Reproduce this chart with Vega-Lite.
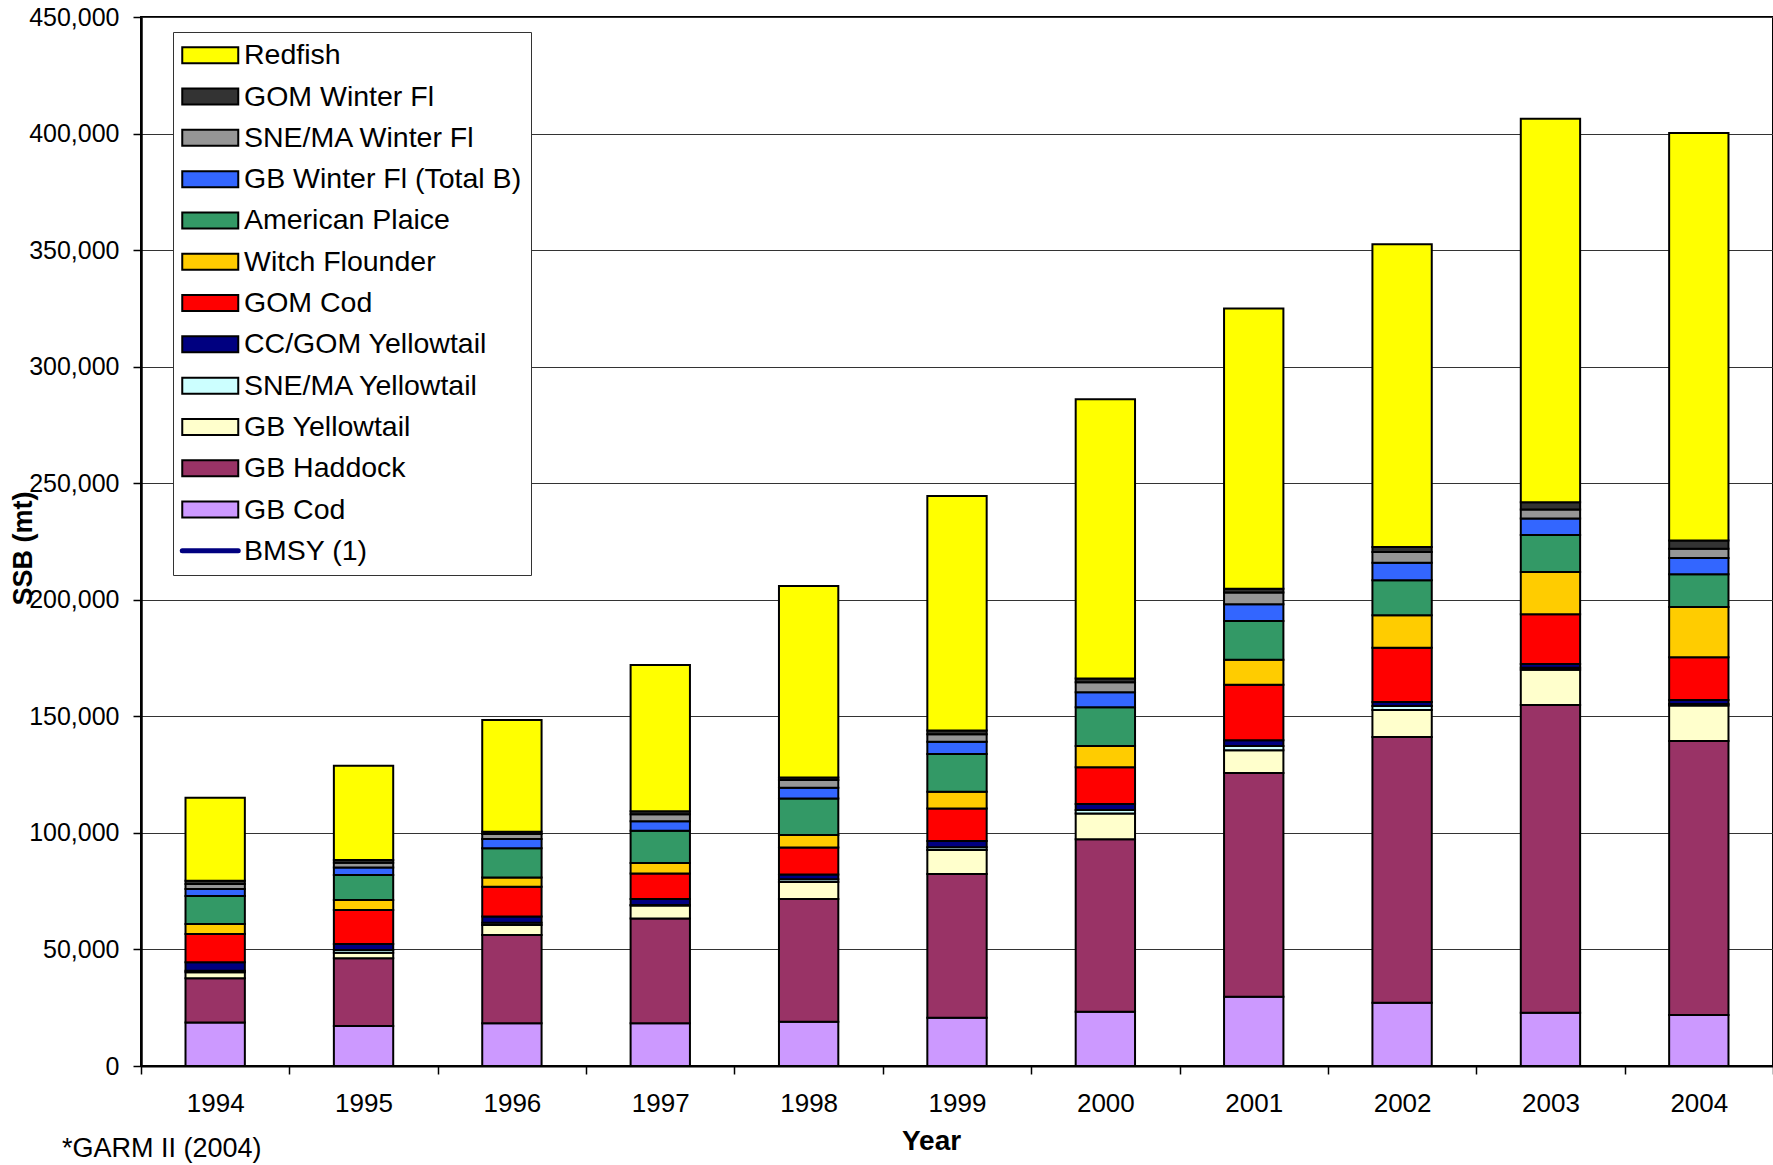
{
  "$schema": "https://vega.github.io/schema/vega-lite/v6.json",
  "autosize": {"type": "none"},
  "width": 1632,
  "height": 1049,
  "padding": {"left": 141, "top": 17, "right": 0, "bottom": 99},
  "background": "white",
  "config": {"font": "Liberation Sans", "view": {"stroke": "black", "strokeWidth": 2}},
  "title": {"text": "*GARM II (2004)", "orient": "bottom", "anchor": "start", "frame": "group", "dx": -79, "offset": -19, "fontSize": 27, "fontWeight": "normal", "font": "Liberation Sans", "color": "black"},
  "data": {"values": [
    {"Year":"1994","species":"GB Cod","k":1,"ssb":18700},{"Year":"1994","species":"GB Haddock","k":2,"ssb":18900},{"Year":"1994","species":"GB Yellowtail","k":3,"ssb":2600},{"Year":"1994","species":"SNE/MA Yellowtail","k":4,"ssb":700},{"Year":"1994","species":"CC/GOM Yellowtail","k":5,"ssb":3600},{"Year":"1994","species":"GOM Cod","k":6,"ssb":12100},{"Year":"1994","species":"Witch Flounder","k":7,"ssb":4300},{"Year":"1994","species":"American Plaice","k":8,"ssb":12000},{"Year":"1994","species":"GB Winter Fl (Total B)","k":9,"ssb":3000},{"Year":"1994","species":"SNE/MA Winter Fl","k":10,"ssb":2200},{"Year":"1994","species":"GOM Winter Fl","k":11,"ssb":1400},{"Year":"1994","species":"Redfish","k":12,"ssb":35600},
    {"Year":"1995","species":"GB Cod","k":1,"ssb":17200},{"Year":"1995","species":"GB Haddock","k":2,"ssb":29000},{"Year":"1995","species":"GB Yellowtail","k":3,"ssb":2400},{"Year":"1995","species":"SNE/MA Yellowtail","k":4,"ssb":1200},{"Year":"1995","species":"CC/GOM Yellowtail","k":5,"ssb":2500},{"Year":"1995","species":"GOM Cod","k":6,"ssb":14600},{"Year":"1995","species":"Witch Flounder","k":7,"ssb":4300},{"Year":"1995","species":"American Plaice","k":8,"ssb":10700},{"Year":"1995","species":"GB Winter Fl (Total B)","k":9,"ssb":3200},{"Year":"1995","species":"SNE/MA Winter Fl","k":10,"ssb":2100},{"Year":"1995","species":"GOM Winter Fl","k":11,"ssb":1200},{"Year":"1995","species":"Redfish","k":12,"ssb":40400},
    {"Year":"1996","species":"GB Cod","k":1,"ssb":18300},{"Year":"1996","species":"GB Haddock","k":2,"ssb":37900},{"Year":"1996","species":"GB Yellowtail","k":3,"ssb":4300},{"Year":"1996","species":"SNE/MA Yellowtail","k":4,"ssb":1000},{"Year":"1996","species":"CC/GOM Yellowtail","k":5,"ssb":2600},{"Year":"1996","species":"GOM Cod","k":6,"ssb":12800},{"Year":"1996","species":"Witch Flounder","k":7,"ssb":4000},{"Year":"1996","species":"American Plaice","k":8,"ssb":12500},{"Year":"1996","species":"GB Winter Fl (Total B)","k":9,"ssb":4000},{"Year":"1996","species":"SNE/MA Winter Fl","k":10,"ssb":2100},{"Year":"1996","species":"GOM Winter Fl","k":11,"ssb":1000},{"Year":"1996","species":"Redfish","k":12,"ssb":47900},
    {"Year":"1997","species":"GB Cod","k":1,"ssb":18300},{"Year":"1997","species":"GB Haddock","k":2,"ssb":45000},{"Year":"1997","species":"GB Yellowtail","k":3,"ssb":5500},{"Year":"1997","species":"SNE/MA Yellowtail","k":4,"ssb":300},{"Year":"1997","species":"CC/GOM Yellowtail","k":5,"ssb":2500},{"Year":"1997","species":"GOM Cod","k":6,"ssb":11000},{"Year":"1997","species":"Witch Flounder","k":7,"ssb":4500},{"Year":"1997","species":"American Plaice","k":8,"ssb":13800},{"Year":"1997","species":"GB Winter Fl (Total B)","k":9,"ssb":4100},{"Year":"1997","species":"SNE/MA Winter Fl","k":10,"ssb":3000},{"Year":"1997","species":"GOM Winter Fl","k":11,"ssb":1300},{"Year":"1997","species":"Redfish","k":12,"ssb":62700},
    {"Year":"1998","species":"GB Cod","k":1,"ssb":19000},{"Year":"1998","species":"GB Haddock","k":2,"ssb":52600},{"Year":"1998","species":"GB Yellowtail","k":3,"ssb":7300},{"Year":"1998","species":"SNE/MA Yellowtail","k":4,"ssb":1200},{"Year":"1998","species":"CC/GOM Yellowtail","k":5,"ssb":2100},{"Year":"1998","species":"GOM Cod","k":6,"ssb":11500},{"Year":"1998","species":"Witch Flounder","k":7,"ssb":5400},{"Year":"1998","species":"American Plaice","k":8,"ssb":15700},{"Year":"1998","species":"GB Winter Fl (Total B)","k":9,"ssb":4600},{"Year":"1998","species":"SNE/MA Winter Fl","k":10,"ssb":3300},{"Year":"1998","species":"GOM Winter Fl","k":11,"ssb":1100},{"Year":"1998","species":"Redfish","k":12,"ssb":82100},
    {"Year":"1999","species":"GB Cod","k":1,"ssb":20700},{"Year":"1999","species":"GB Haddock","k":2,"ssb":61700},{"Year":"1999","species":"GB Yellowtail","k":3,"ssb":10300},{"Year":"1999","species":"SNE/MA Yellowtail","k":4,"ssb":1100},{"Year":"1999","species":"CC/GOM Yellowtail","k":5,"ssb":2700},{"Year":"1999","species":"GOM Cod","k":6,"ssb":14000},{"Year":"1999","species":"Witch Flounder","k":7,"ssb":7200},{"Year":"1999","species":"American Plaice","k":8,"ssb":16100},{"Year":"1999","species":"GB Winter Fl (Total B)","k":9,"ssb":5300},{"Year":"1999","species":"SNE/MA Winter Fl","k":10,"ssb":3200},{"Year":"1999","species":"GOM Winter Fl","k":11,"ssb":1600},{"Year":"1999","species":"Redfish","k":12,"ssb":100600},
    {"Year":"2000","species":"GB Cod","k":1,"ssb":23300},{"Year":"2000","species":"GB Haddock","k":2,"ssb":74000},{"Year":"2000","species":"GB Yellowtail","k":3,"ssb":11000},{"Year":"2000","species":"SNE/MA Yellowtail","k":4,"ssb":1500},{"Year":"2000","species":"CC/GOM Yellowtail","k":5,"ssb":2600},{"Year":"2000","species":"GOM Cod","k":6,"ssb":15800},{"Year":"2000","species":"Witch Flounder","k":7,"ssb":9100},{"Year":"2000","species":"American Plaice","k":8,"ssb":16600},{"Year":"2000","species":"GB Winter Fl (Total B)","k":9,"ssb":6400},{"Year":"2000","species":"SNE/MA Winter Fl","k":10,"ssb":4300},{"Year":"2000","species":"GOM Winter Fl","k":11,"ssb":1600},{"Year":"2000","species":"Redfish","k":12,"ssb":119800},
    {"Year":"2001","species":"GB Cod","k":1,"ssb":29700},{"Year":"2001","species":"GB Haddock","k":2,"ssb":96000},{"Year":"2001","species":"GB Yellowtail","k":3,"ssb":9700},{"Year":"2001","species":"SNE/MA Yellowtail","k":4,"ssb":1900},{"Year":"2001","species":"CC/GOM Yellowtail","k":5,"ssb":2400},{"Year":"2001","species":"GOM Cod","k":6,"ssb":23800},{"Year":"2001","species":"Witch Flounder","k":7,"ssb":10800},{"Year":"2001","species":"American Plaice","k":8,"ssb":16600},{"Year":"2001","species":"GB Winter Fl (Total B)","k":9,"ssb":7200},{"Year":"2001","species":"SNE/MA Winter Fl","k":10,"ssb":5000},{"Year":"2001","species":"GOM Winter Fl","k":11,"ssb":1600},{"Year":"2001","species":"Redfish","k":12,"ssb":120200},
    {"Year":"2002","species":"GB Cod","k":1,"ssb":27100},{"Year":"2002","species":"GB Haddock","k":2,"ssb":114000},{"Year":"2002","species":"GB Yellowtail","k":3,"ssb":11600},{"Year":"2002","species":"SNE/MA Yellowtail","k":4,"ssb":1700},{"Year":"2002","species":"CC/GOM Yellowtail","k":5,"ssb":1700},{"Year":"2002","species":"GOM Cod","k":6,"ssb":23300},{"Year":"2002","species":"Witch Flounder","k":7,"ssb":14000},{"Year":"2002","species":"American Plaice","k":8,"ssb":15000},{"Year":"2002","species":"GB Winter Fl (Total B)","k":9,"ssb":7500},{"Year":"2002","species":"SNE/MA Winter Fl","k":10,"ssb":4600},{"Year":"2002","species":"GOM Winter Fl","k":11,"ssb":2100},{"Year":"2002","species":"Redfish","k":12,"ssb":129900},
    {"Year":"2003","species":"GB Cod","k":1,"ssb":22800},{"Year":"2003","species":"GB Haddock","k":2,"ssb":132100},{"Year":"2003","species":"GB Yellowtail","k":3,"ssb":15100},{"Year":"2003","species":"SNE/MA Yellowtail","k":4,"ssb":800},{"Year":"2003","species":"CC/GOM Yellowtail","k":5,"ssb":1700},{"Year":"2003","species":"GOM Cod","k":6,"ssb":21300},{"Year":"2003","species":"Witch Flounder","k":7,"ssb":18100},{"Year":"2003","species":"American Plaice","k":8,"ssb":15900},{"Year":"2003","species":"GB Winter Fl (Total B)","k":9,"ssb":7100},{"Year":"2003","species":"SNE/MA Winter Fl","k":10,"ssb":3800},{"Year":"2003","species":"GOM Winter Fl","k":11,"ssb":3100},{"Year":"2003","species":"Redfish","k":12,"ssb":164500},
    {"Year":"2004","species":"GB Cod","k":1,"ssb":21900},{"Year":"2004","species":"GB Haddock","k":2,"ssb":117500},{"Year":"2004","species":"GB Yellowtail","k":3,"ssb":15200},{"Year":"2004","species":"SNE/MA Yellowtail","k":4,"ssb":700},{"Year":"2004","species":"CC/GOM Yellowtail","k":5,"ssb":1700},{"Year":"2004","species":"GOM Cod","k":6,"ssb":18300},{"Year":"2004","species":"Witch Flounder","k":7,"ssb":21600},{"Year":"2004","species":"American Plaice","k":8,"ssb":14100},{"Year":"2004","species":"GB Winter Fl (Total B)","k":9,"ssb":6900},{"Year":"2004","species":"SNE/MA Winter Fl","k":10,"ssb":4000},{"Year":"2004","species":"GOM Winter Fl","k":11,"ssb":3500},{"Year":"2004","species":"Redfish","k":12,"ssb":174800}
  ]},
  "mark": {"type": "bar", "width": {"band": 0.4}, "stroke": "black", "strokeWidth": 2},
  "encoding": {
    "x": {
      "field": "Year", "type": "ordinal",
      "scale": {"paddingInner": 0, "paddingOuter": 0},
      "axis": {
        "title": "Year", "titleFontSize": 28, "titleFontWeight": "bold", "titleColor": "black",
        "titleX": 790, "titleY": 61, "titleAlign": "center", "titleBaseline": "top",
        "labelAngle": 0, "labelFontSize": 26, "labelColor": "black", "labelPadding": 16,
        "tickBand": "extent", "tickSize": 8, "tickColor": "black", "tickWidth": 1.5,
        "domainColor": "black", "domainWidth": 2, "grid": false
      }
    },
    "y": {
      "field": "ssb", "type": "quantitative", "stack": "zero",
      "scale": {"domain": [0, 450000], "nice": false},
      "axis": {
        "title": "SSB (mt)", "titleFontSize": 27, "titleFontWeight": "bold", "titleColor": "black",
        "titleX": -118, "titleY": 531, "titleAngle": -90, "titleBaseline": "middle", "titleAlign": "center",
        "values": [0, 50000, 100000, 150000, 200000, 250000, 300000, 350000, 400000, 450000],
        "format": ",d", "labelFontSize": 25, "labelColor": "black", "labelPadding": 14,
        "tickSize": 8, "tickColor": "black", "tickWidth": 1.5,
        "grid": true, "gridColor": "#333333", "gridWidth": 1.2,
        "domainColor": "black", "domainWidth": 2.5
      }
    },
    "color": {
      "field": "species", "type": "nominal",
      "scale": {
        "domain": ["Redfish", "GOM Winter Fl", "SNE/MA Winter Fl", "GB Winter Fl (Total B)", "American Plaice", "Witch Flounder", "GOM Cod", "CC/GOM Yellowtail", "SNE/MA Yellowtail", "GB Yellowtail", "GB Haddock", "GB Cod", "BMSY (1)"],
        "range": ["#FFFF00", "#333333", "#969696", "#3366FF", "#339966", "#FFCC00", "#FF0000", "#000080", "#CCFFFF", "#FFFFCC", "#993366", "#CC99FF", "#000080"]
      },
      "legend": {
        "title": null, "orient": "none", "legendX": 32, "legendY": 15,
        "strokeColor": "#333333", "fillColor": "white", "padding": 9,
        "labelFontSize": 28.5, "labelColor": "black", "labelLimit": 600, "labelOffset": 33.5,
        "symbolSize": 784, "symbolType": "M-1,-0.57H3V0.57H-1Z",
        "symbolStrokeWidth": 2, "symbolStrokeColor": "black", "rowPadding": 12.3,
        "encoding": {
          "symbols": {
            "shape": {"value": {"expr": "datum.label === 'BMSY (1)' ? 'M-1,0H3' : 'M-1,-0.57H3V0.57H-1Z'"}},
            "stroke": {"value": {"expr": "datum.label === 'BMSY (1)' ? '#000080' : 'black'"}},
            "strokeWidth": {"value": {"expr": "datum.label === 'BMSY (1)' ? 5 : 2"}},
            "strokeCap": {"value": "round"}
          }
        }
      }
    },
    "order": {"field": "k", "type": "quantitative"}
  }
}
